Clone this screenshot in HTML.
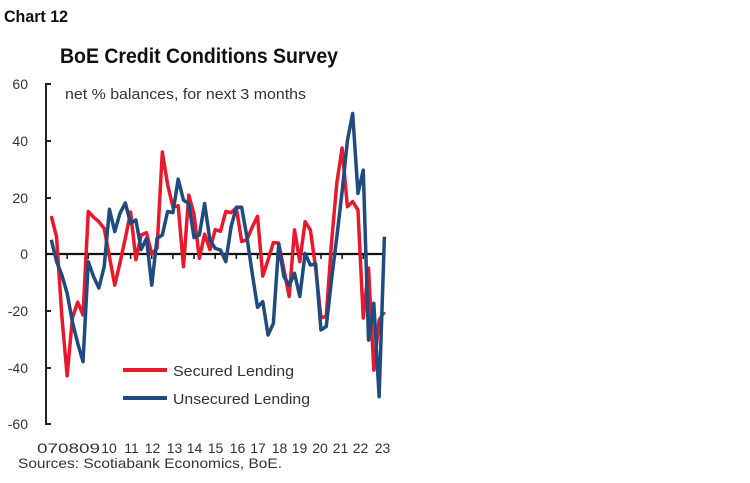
<!DOCTYPE html>
<html>
<head>
<meta charset="utf-8">
<style>
  html, body { margin: 0; padding: 0; background: #ffffff; }
  body { width: 750px; height: 483px; overflow: hidden; }
  svg { display: block; font-family: "Liberation Sans", Arial, sans-serif; }
</style>
</head>
<body>
<svg width="750" height="483" viewBox="0 0 750 483" xmlns="http://www.w3.org/2000/svg">
  <rect width="750" height="483" fill="#ffffff"/>

  <!-- Header texts -->
  <text x="4" y="22" font-size="17" font-weight="bold" fill="#111" textLength="64" lengthAdjust="spacingAndGlyphs">Chart 12</text>
  <text x="60" y="63" font-size="21" font-weight="bold" fill="#111" textLength="278" lengthAdjust="spacingAndGlyphs">BoE Credit Conditions Survey</text>
  <text x="65" y="99" font-size="15" fill="#333" textLength="241" lengthAdjust="spacingAndGlyphs">net % balances, for next 3 months</text>

  <!-- Y axis labels -->
  <g font-size="14" fill="#333" text-anchor="end">
    <text x="28" y="89">60</text>
    <text x="28" y="146">40</text>
    <text x="28" y="203">20</text>
    <text x="28" y="259">0</text>
    <text x="28" y="316">-20</text>
    <text x="28" y="373">-40</text>
    <text x="28" y="429">-60</text>
  </g>

  <!-- Y axis -->
  <g stroke="#222" stroke-width="2" fill="none">
    <line x1="46" y1="83" x2="46" y2="425"/>
    <line x1="45" y1="84" x2="51" y2="84"/>
    <line x1="46" y1="141" x2="51" y2="141"/>
    <line x1="46" y1="198" x2="51" y2="198"/>
    <line x1="46" y1="311" x2="51" y2="311"/>
    <line x1="46" y1="368" x2="51" y2="368"/>
    <line x1="45" y1="424" x2="51" y2="424"/>
  </g>

  <!-- X axis -->
  <g stroke="#111" fill="none">
    <line x1="46" y1="254" x2="385" y2="254" stroke-width="2.2"/>
    <g stroke-width="1.5">
      <line x1="67.15" y1="254" x2="67.15" y2="259"/>
      <line x1="88.3" y1="254" x2="88.3" y2="259"/>
      <line x1="109.45" y1="254" x2="109.45" y2="259"/>
      <line x1="130.6" y1="254" x2="130.6" y2="259"/>
      <line x1="151.75" y1="254" x2="151.75" y2="259"/>
      <line x1="172.9" y1="254" x2="172.9" y2="259"/>
      <line x1="194.05" y1="254" x2="194.05" y2="259"/>
      <line x1="215.2" y1="254" x2="215.2" y2="259"/>
      <line x1="236.35" y1="254" x2="236.35" y2="259"/>
      <line x1="257.5" y1="254" x2="257.5" y2="259"/>
      <line x1="278.65" y1="254" x2="278.65" y2="259"/>
      <line x1="299.8" y1="254" x2="299.8" y2="259"/>
      <line x1="320.95" y1="254" x2="320.95" y2="259"/>
      <line x1="342.1" y1="254" x2="342.1" y2="259"/>
      <line x1="363.25" y1="254" x2="363.25" y2="259"/>
      <line x1="384.4" y1="254" x2="384.4" y2="259"/>
    </g>
  </g>

  <!-- X axis labels -->
  <g font-size="14" fill="#333">
    <text x="37" y="453" textLength="63" lengthAdjust="spacingAndGlyphs">070809</text>
    <g text-anchor="middle">
      <text x="109" y="453">10</text>
      <text x="131.5" y="453">11</text>
      <text x="152.5" y="453">12</text>
      <text x="174.5" y="453">13</text>
      <text x="194.5" y="453">14</text>
      <text x="215.5" y="453">15</text>
      <text x="237.5" y="453">16</text>
      <text x="258" y="453">17</text>
      <text x="279.5" y="453">18</text>
      <text x="299.5" y="453">19</text>
      <text x="320" y="453">20</text>
      <text x="340.5" y="453">21</text>
      <text x="360.5" y="453">22</text>
      <text x="382.5" y="453">23</text>
    </g>
  </g>

  <text x="18" y="468" font-size="14" fill="#333" textLength="264" lengthAdjust="spacingAndGlyphs">Sources: Scotiabank Economics, BoE.</text>

  <!-- Series -->
  <g transform="translate(51.29,254) scale(5.2875,-2.8333)">
    <polyline fill="none" stroke="#e8192c" stroke-width="3.5" stroke-linejoin="round" stroke-linecap="butt" vector-effect="non-scaling-stroke"
      points="0,13.4 1,6 2,-22 3,-43 4,-22.5 5,-17 6,-21.5 7,15 8,13 9,11.4 10,9 11,-1 12,-11 13,-3 14,5.5 15,14.8 16,-2 17,6.7 18,7.5 19,0 20,2 21,36 22,24.5 23,16.6 24,17 25,-4.5 26,20.8 27,14 28,-1.5 29,7 30,1.5 31,8.6 32,8 33,15 34,14.6 35,16.3 36,4.4 37,5 38,9.5 39,13.3 40,-7.8 41,-2.1 42,4 43,3.9 44,-5.6 45,-15 46,8.5 47,-2.7 48,11.4 49,8.5 50,-5 51,-22.5 52,-22 53,4 54,25 55,37.4 56,16.7 57,18.5 58,15.5 59,-22.6 60,-5 61,-41 62,-23.3 63,-20.4"/>
    <polyline fill="none" stroke="#1f4b7e" stroke-width="3.5" stroke-linejoin="round" stroke-linecap="butt" vector-effect="non-scaling-stroke"
      points="0,5 1,-2.7 2,-7.4 3,-13.9 4,-24 5,-31.5 6,-38 7,-2.7 8,-8 9,-12 10,-4.5 11,15.8 12,7.9 13,14.4 14,18 15,10.8 16,12 17,1.6 18,5.5 19,-11 20,5.5 21,6.7 22,15 23,14.6 24,26.4 25,19 26,17.8 27,5.8 28,6.7 29,17.8 30,4.9 31,2 32,1.4 33,-2.7 34,9.6 35,16.5 36,16.5 37,6 38,-6.8 39,-18.8 40,-16.8 41,-28.6 42,-24.5 43,3.2 44,-8 45,-11 46,-6.8 47,-15 48,0.2 49,-3.9 50,-3.5 51,-26.8 52,-25.6 53,-9 54,6 55,22 56,40 57,49.6 58,21.4 59,29.6 60,-30.4 61,-17.4 62,-50.4 63,6.1"/>
  </g>

  <!-- Legend -->
  <line x1="123" y1="370" x2="167" y2="370" stroke="#e8192c" stroke-width="4"/>
  <text x="173" y="376" font-size="15" fill="#333" textLength="121" lengthAdjust="spacingAndGlyphs">Secured Lending</text>
  <line x1="123" y1="398" x2="167" y2="398" stroke="#1f4b7e" stroke-width="4"/>
  <text x="173" y="404" font-size="15" fill="#333" textLength="137" lengthAdjust="spacingAndGlyphs">Unsecured Lending</text>
</svg>
</body>
</html>
